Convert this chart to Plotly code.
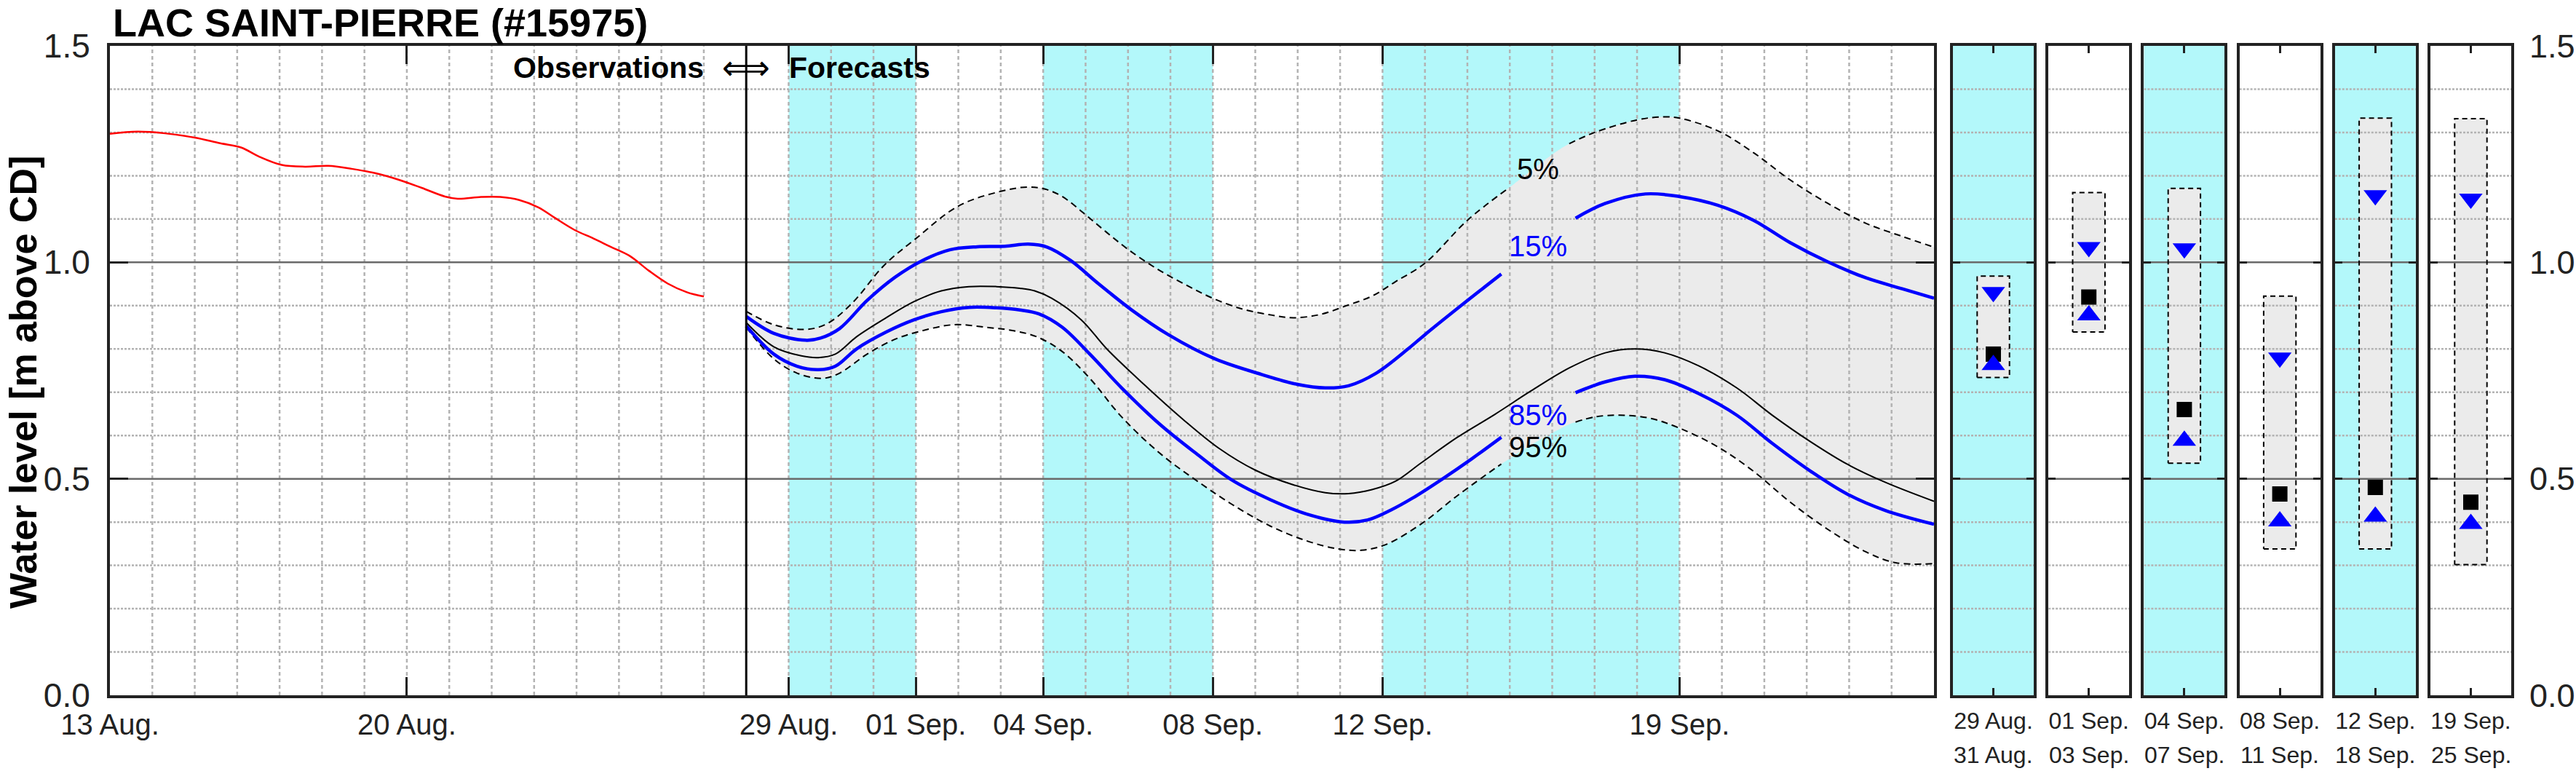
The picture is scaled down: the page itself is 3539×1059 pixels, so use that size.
import pandas as pd
import plotly.graph_objects as go

# ---------------- data ----------------
BASE = pd.Timestamp("2023-08-13")
X_END_DAY = 43
FORECAST_START_DAY = 15

obs_days = [0, 0.65, 1.3, 2.0, 2.6, 3.1, 3.5, 4.05, 4.6, 5.15, 5.7, 6.25, 6.8, 7.35,
            7.9, 8.2, 8.75, 9.2, 9.65, 10.1, 10.5, 10.95, 11.4, 11.8, 12.25, 12.7,
            13.15, 13.6, 14.0]
obs_vals = [1.297, 1.302, 1.298, 1.288, 1.275, 1.265, 1.245, 1.225, 1.221, 1.223,
            1.216, 1.206, 1.191, 1.172, 1.152, 1.147, 1.151, 1.151, 1.144, 1.127,
            1.102, 1.075, 1.055, 1.036, 1.015, 0.981, 0.951, 0.931, 0.921]

p05_days = [15.0, 15.65, 16.4, 16.9, 17.5, 18.25, 19.0, 20.0, 21.0, 21.65, 22.05, 22.45,
            22.95, 23.45, 24.0, 24.7, 25.4, 26.0, 26.7, 27.4, 27.9, 28.55, 29.15, 29.75,
            30.3, 31.0, 32.0, 32.95, 33.1, 34.1, 34.4, 35.0, 36.0, 36.6, 37.0, 37.9,
            38.75, 39.6, 40.5, 41.4, 42.25, 43.0]
p05_vals = [0.887, 0.856, 0.845, 0.858, 0.906, 0.993, 1.055, 1.130, 1.164, 1.174, 1.169,
            1.152, 1.114, 1.073, 1.030, 0.984, 0.946, 0.917, 0.892, 0.878, 0.872, 0.880,
            0.900, 0.922, 0.955, 0.998, 1.097, 1.170, 1.181, 1.256, 1.274, 1.300, 1.329,
            1.336, 1.333, 1.304, 1.253, 1.191, 1.136, 1.090, 1.060, 1.035]
p05_label_gap = [32.95, 34.4]

p15a_days = [15.0, 15.65, 16.4, 16.75, 17.2, 17.85, 18.5, 19.15, 19.8, 20.45, 21.1,
             21.65, 22.1, 22.65, 23.3, 24.1, 24.95, 26.05, 27.15, 28.0, 28.65, 29.2,
             29.85, 30.6, 31.0, 31.85, 32.8]
p15a_vals = [0.875, 0.836, 0.820, 0.825, 0.847, 0.912, 0.965, 1.004, 1.029, 1.036, 1.037,
             1.042, 1.035, 1.004, 0.951, 0.889, 0.833, 0.777, 0.741, 0.718, 0.710, 0.715,
             0.744, 0.800, 0.833, 0.900, 0.973]
p15b_days = [34.55, 35.25, 36.2, 37.0, 37.9, 38.75, 39.6, 40.5, 41.4, 42.25, 43.0]
p15b_vals = [1.102, 1.136, 1.158, 1.152, 1.132, 1.097, 1.046, 1.001, 0.964, 0.939, 0.917]

p50_days = [15.0, 15.65, 16.3, 16.7, 17.1, 17.6, 18.3, 18.95, 19.6, 20.25, 20.9, 21.45,
            21.8, 22.2, 22.9, 23.5, 24.4, 25.3, 26.15, 27.0, 27.9, 28.65, 29.2, 29.75,
            30.3, 30.9, 31.75, 32.65, 33.5, 34.4, 35.25, 35.95, 36.65, 37.45, 38.35,
            39.2, 40.1, 40.95, 41.85, 43.0]
p50_vals = [0.861, 0.805, 0.784, 0.780, 0.788, 0.828, 0.872, 0.909, 0.934, 0.944, 0.944,
            0.940, 0.934, 0.917, 0.867, 0.800, 0.716, 0.637, 0.570, 0.520, 0.486, 0.468,
            0.466, 0.475, 0.494, 0.536, 0.595, 0.649, 0.703, 0.756, 0.791, 0.800, 0.791,
            0.761, 0.710, 0.646, 0.585, 0.534, 0.492, 0.448]

p85a_days = [15.0, 15.65, 16.2, 16.7, 17.1, 17.6, 18.3, 18.95, 19.6, 20.25, 20.9, 21.45,
             21.9, 22.45, 23.1, 23.85, 24.75, 25.6, 26.45, 27.35, 28.2, 29.1, 29.65,
             30.2, 30.7, 31.4, 32.1, 32.8]
p85a_vals = [0.853, 0.788, 0.760, 0.752, 0.760, 0.800, 0.839, 0.867, 0.886, 0.896, 0.895,
             0.890, 0.881, 0.850, 0.788, 0.710, 0.626, 0.559, 0.497, 0.452, 0.419, 0.400,
             0.405, 0.428, 0.455, 0.499, 0.546, 0.596]
p85b_days = [34.55, 35.25, 35.95, 36.65, 37.45, 38.35, 39.2, 40.1, 40.95, 41.85, 43.0]
p85b_vals = [0.699, 0.724, 0.737, 0.729, 0.697, 0.647, 0.581, 0.517, 0.465, 0.427, 0.395]

p95_days = [15.0, 15.65, 16.2, 16.8, 17.2, 17.85, 18.5, 19.15, 19.9, 20.65, 21.3, 21.85,
            22.45, 23.1, 23.85, 24.75, 25.6, 26.45, 27.35, 28.2, 28.95, 29.5, 30.05,
            30.9, 31.75, 32.65, 32.8, 33.5, 34.4, 34.55, 35.0, 35.6, 36.3, 37.0, 37.9,
            38.75, 39.6, 40.5, 41.4, 42.1, 43.0]
p95_vals = [0.850, 0.777, 0.744, 0.732, 0.744, 0.788, 0.822, 0.842, 0.856, 0.850, 0.842,
            0.828, 0.794, 0.732, 0.643, 0.559, 0.497, 0.441, 0.391, 0.357, 0.338, 0.335,
            0.347, 0.395, 0.460, 0.524, 0.534, 0.578, 0.626, 0.631, 0.643, 0.647, 0.640,
            0.617, 0.574, 0.517, 0.447, 0.383, 0.331, 0.306, 0.304]
p95_label_gap = [32.8, 34.55]

tick_days = [0, 7, 16, 19, 22, 26, 30, 37]
tick_text = ["13 Aug.", "20 Aug.", "29 Aug.", "01 Sep.", "04 Sep.", "08 Sep.",
             "12 Sep.", "19 Sep."]
band_start_days = [16, 22, 30]
band_end_days = [19, 26, 37]

pct_labels = ["5%", "15%", "85%", "95%"]
pct_label_vals = [1.216, 1.038, 0.648, 0.573]
pct_label_colors = ["black", "blue", "blue", "black"]
pct_label_day = 33.67

panel_start = ["29 Aug.", "01 Sep.", "04 Sep.", "08 Sep.", "12 Sep.", "19 Sep."]
panel_end = ["31 Aug.", "03 Sep.", "07 Sep.", "11 Sep.", "18 Sep.", "25 Sep."]
panel_hi = [0.968, 1.161, 1.171, 0.922, 1.333, 1.332]
panel_lo = [0.734, 0.839, 0.536, 0.338, 0.338, 0.302]
panel_p15 = [0.931, 1.035, 1.032, 0.780, 1.155, 1.147]
panel_p50 = [0.788, 0.920, 0.660, 0.465, 0.480, 0.446]
panel_p85 = [0.763, 0.878, 0.588, 0.402, 0.413, 0.396]
panel_shaded = [True, False, True, False, True, False]

y_ticks = [0.0, 0.5, 1.0, 1.5]
y_major_grid = [0.5, 1.0]
y_minor_grid = [0.1, 0.2, 0.3, 0.4, 0.6, 0.7, 0.8, 0.9, 1.1, 1.2, 1.3, 1.4]
Y_RANGE = [0.0, 1.5]

# ---------------- style ----------------
W, H = 3539, 1059
ML, MR, MT, MB = 151, 89, 63, 104
PW = W - ML - MR
PH = H - MT - MB
MAIN_RIGHT = (2657 - ML) / PW
PANEL_W = 111 / PW
P0_LEFT = (2683 - ML) / PW
PANEL_PITCH = ((1.0 - PANEL_W) - P0_LEFT) / 5
BOX_HALF = 0.4

CYAN = "#b3f8fa"
GREY_FILL = "#ebebeb"
GRID_C = "#b3b3b3"
MAJOR_C = "#6a6a6a"
AX_C = "#222222"
FONT = "Liberation Sans, Arial, sans-serif"
PANEL_FONT_SIZE = 32


def to_date(days):
    return [BASE + pd.Timedelta(days=d) for d in days]


def py(pixel_y):
    """paper y coordinate for a pixel row measured from the top of the figure"""
    return (H - MB - pixel_y) / PH


X0 = BASE
X1 = BASE + pd.Timedelta(days=X_END_DAY)
FC0 = BASE + pd.Timedelta(days=FORECAST_START_DAY)

fig = go.Figure()


def lines_trace(xs, ys, xa, ya, color, width, dash="solid"):
    return go.Scatter(x=xs, y=ys, mode="lines", xaxis=xa, yaxis=ya,
                      line=dict(color=color, width=width, dash=dash),
                      hoverinfo="skip", showlegend=False)


def hgrid(levels, x0, x1, xa, ya, color, width, dash):
    xs, ys = [], []
    for v in levels:
        xs += [x0, x1, None]
        ys += [v, v, None]
    return lines_trace(xs, ys, xa, ya, color, width, dash)


# ---- main subplot ----
fig.add_trace(go.Scatter(x=to_date(p95_days), y=p95_vals, mode="lines",
                         line=dict(width=0, shape="spline"), hoverinfo="skip",
                         showlegend=False))
fig.add_trace(go.Scatter(x=to_date(p05_days), y=p05_vals, mode="lines",
                         line=dict(width=0, shape="spline"), fill="tonexty",
                         fillcolor=GREY_FILL, hoverinfo="skip", showlegend=False))

grid_days = [d for d in range(1, X_END_DAY) if d != FORECAST_START_DAY]
vx, vy = [], []
for d in to_date(grid_days):
    vx += [d, d, None]
    vy += [Y_RANGE[0], Y_RANGE[1], None]
fig.add_trace(lines_trace(vx, vy, "x", "y", GRID_C, 2.5, "5px,4px"))
fig.add_trace(hgrid(y_minor_grid, X0, X1, "x", "y", GRID_C, 2.5, "3px,2px"))
fig.add_trace(hgrid(y_major_grid, X0, X1, "x", "y", MAJOR_C, 2.5, "solid"))


def curve(days, vals, color, width, dash="solid"):
    fig.add_trace(go.Scatter(x=to_date(days), y=vals, mode="lines",
                             line=dict(color=color, width=width, dash=dash, shape="spline"),
                             hoverinfo="skip", showlegend=False))


def gapped_curve(days, vals, gap, color, width, dash):
    before = [(d, v) for d, v in zip(days, vals) if d <= gap[0]]
    after = [(d, v) for d, v in zip(days, vals) if d >= gap[1]]
    for seg in (before, after):
        curve([d for d, _ in seg], [v for _, v in seg], color, width, dash)


gapped_curve(p95_days, p95_vals, p95_label_gap, "black", 2, "9px,6px")
gapped_curve(p05_days, p05_vals, p05_label_gap, "black", 2, "9px,6px")
curve(p50_days, p50_vals, "black", 2)
curve(p85a_days, p85a_vals, "blue", 4.5)
curve(p85b_days, p85b_vals, "blue", 4.5)
curve(p15a_days, p15a_vals, "blue", 4.5)
curve(p15b_days, p15b_vals, "blue", 4.5)
curve(obs_days, obs_vals, "red", 2.5)

shapes = []
for s, e in zip(band_start_days, band_end_days):
    shapes.append(dict(type="rect", xref="x", yref="y domain",
                       x0=BASE + pd.Timedelta(days=s), x1=BASE + pd.Timedelta(days=e),
                       y0=0, y1=1, fillcolor=CYAN, line=dict(width=0), layer="below"))
shapes.append(dict(type="line", xref="x", yref="y domain", x0=FC0, x1=FC0, y0=0, y1=1,
                   line=dict(color="black", width=3), layer="above"))

annotations = []
for t, v, c in zip(pct_labels, pct_label_vals, pct_label_colors):
    annotations.append(dict(x=BASE + pd.Timedelta(days=pct_label_day), y=v, xref="x", yref="y",
                            text=t, showarrow=False, xanchor="center", yanchor="middle",
                            font=dict(family=FONT, size=40, color=c)))

# ---- panels ----
layout_axes = {}
for i in range(6):
    n = i + 2
    xa, ya = f"x{n}", f"y{n}"
    left = P0_LEFT + i * PANEL_PITCH
    lo, hi = panel_lo[i], panel_hi[i]
    bx = [-BOX_HALF, BOX_HALF, BOX_HALF, -BOX_HALF, -BOX_HALF]
    by = [lo, lo, hi, hi, lo]
    fig.add_trace(go.Scatter(x=bx, y=by, mode="lines", fill="toself", fillcolor=GREY_FILL,
                             line=dict(width=0), xaxis=xa, yaxis=ya, hoverinfo="skip",
                             showlegend=False))
    fig.add_trace(hgrid(y_minor_grid, -1, 1, xa, ya, GRID_C, 2.5, "3px,2px"))
    fig.add_trace(hgrid(y_major_grid, -1, 1, xa, ya, MAJOR_C, 2.5, "solid"))
    fig.add_trace(lines_trace(bx, by, xa, ya, "black", 2, "7px,5px"))
    fig.add_trace(go.Scatter(x=[0], y=[panel_p15[i]], mode="markers", xaxis=xa, yaxis=ya,
                             marker=dict(symbol="triangle-down", size=28, color="blue"),
                             hoverinfo="skip", showlegend=False))
    fig.add_trace(go.Scatter(x=[0], y=[panel_p50[i]], mode="markers", xaxis=xa, yaxis=ya,
                             marker=dict(symbol="square", size=21, color="black"),
                             hoverinfo="skip", showlegend=False))
    fig.add_trace(go.Scatter(x=[0], y=[panel_p85[i]], mode="markers", xaxis=xa, yaxis=ya,
                             marker=dict(symbol="triangle-up", size=28, color="blue"),
                             hoverinfo="skip", showlegend=False))
    if panel_shaded[i]:
        shapes.append(dict(type="rect", xref=f"{xa} domain", yref=f"{ya} domain",
                           x0=0, x1=1, y0=0, y1=1, fillcolor=CYAN, line=dict(width=0),
                           layer="below"))
    # second line of the period label
    annotations.append(dict(xref=xa, yref="paper", x=0, y=py(1037), text=panel_end[i],
                            showarrow=False, xanchor="center", yanchor="middle",
                            font=dict(family=FONT, size=PANEL_FONT_SIZE, color=AX_C)))
    layout_axes[f"xaxis{n}"] = dict(
        domain=[left, left + PANEL_W], range=[-1, 1], anchor=ya,
        tickvals=[0], ticktext=[panel_start[i]],
        ticks="inside", ticklen=10, tickwidth=3, tickcolor=AX_C,
        showline=True, linewidth=4, linecolor=AX_C, mirror="ticks",
        showgrid=False, zeroline=False, fixedrange=True, automargin=False,
        tickfont=dict(family=FONT, size=PANEL_FONT_SIZE, color=AX_C), ticklabelstandoff=4)
    yax = dict(domain=[0, 1], range=Y_RANGE, anchor=xa, tickvals=y_ticks,
               ticktext=[f"{v:.1f}" for v in y_ticks],
               ticks="inside", ticklen=10, tickwidth=3, tickcolor=AX_C,
               showline=True, linewidth=4, linecolor=AX_C, mirror="ticks",
               showgrid=False, zeroline=False, fixedrange=True, automargin=False,
               showticklabels=(i == 5),
               tickfont=dict(family=FONT, size=45, color=AX_C))
    if i == 5:
        yax.update(side="right", ticklabelstandoff=12)
    layout_axes[f"yaxis{n}"] = yax

# ---- text ----
annotations.append(dict(xref="paper", yref="paper", x=0, xshift=2, y=py(31),
                        text="<b>LAC SAINT-PIERRE (#15975)</b>", showarrow=False,
                        xanchor="left", yanchor="middle",
                        font=dict(family=FONT, size=54, color="black")))
annotations.append(dict(xref="paper", yref="paper", x=(32 - ML) / PW, y=py(525),
                        text="<b>Water level [m above CD]</b>", showarrow=False,
                        textangle=-90, xanchor="center", yanchor="middle",
                        font=dict(family=FONT, size=52, color="black")))
OBS_Y = py(93)
annotations.append(dict(xref="x", yref="paper", x=FC0, y=OBS_Y, xshift=-56,
                        text="<b>Observations</b>", showarrow=False, xanchor="right",
                        yanchor="middle", font=dict(family=FONT, size=41, color="black")))
annotations.append(dict(xref="x", yref="paper", x=FC0, y=OBS_Y,
                        text="\u27fa", showarrow=False, xanchor="center",
                        yanchor="middle", font=dict(family="DejaVu Sans", size=46, color="black")))
annotations.append(dict(xref="x", yref="paper", x=FC0, y=OBS_Y, xshift=57,
                        text="<b>Forecasts</b>", showarrow=False, xanchor="left",
                        yanchor="middle", font=dict(family=FONT, size=41, color="black")))

fig.update_layout(
    width=W, height=H,
    margin=dict(l=ML, r=MR, t=MT, b=MB, pad=0, autoexpand=False),
    paper_bgcolor="white", plot_bgcolor="white",
    showlegend=False,
    xaxis=dict(domain=[0, MAIN_RIGHT], type="date", range=[X0, X1], anchor="y",
               tickvals=to_date(tick_days), ticktext=tick_text,
               ticks="inside", ticklen=25, tickwidth=3, tickcolor=AX_C,
               showline=True, linewidth=4, linecolor=AX_C, mirror="ticks",
               showgrid=False, zeroline=False, automargin=False,
               tickfont=dict(family=FONT, size=40, color=AX_C), ticklabelstandoff=2),
    yaxis=dict(domain=[0, 1], range=Y_RANGE, anchor="x", tickvals=y_ticks,
               ticktext=[f"{v:.1f}" for v in y_ticks],
               ticks="inside", ticklen=25, tickwidth=3, tickcolor=AX_C,
               showline=True, linewidth=4, linecolor=AX_C, mirror="ticks",
               showgrid=False, zeroline=False, automargin=False,
               tickfont=dict(family=FONT, size=46, color=AX_C), ticklabelstandoff=14),
    shapes=shapes, annotations=annotations,
    **layout_axes,
)

fig.write_html("out.html")
